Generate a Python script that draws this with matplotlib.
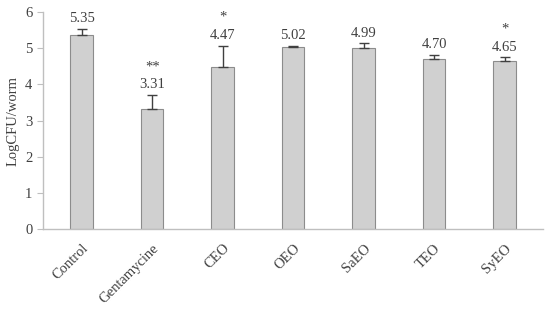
import numpy as np
import matplotlib.pyplot as plt

# Data
groups = ["Control", "Gentamycine", "CEO", "OEO", "SaEO", "TEO", "SyEO"]
log_cfu = [5.35, 3.31, 4.47, 5.02, 4.99, 4.70, 4.65]
errors = [0.18, 0.40, 0.60, 0.05, 0.15, 0.12, 0.10]
stars = ["", "**", "*", "", "", "", "*"]

plt.rcParams['font.family'] = ['Liberation Serif', 'DejaVu Serif']
txt = '#404040'

fig, ax = plt.subplots(figsize=(5.5, 3.13), dpi=100)
fig.subplots_adjust(left=0.078, right=0.988, top=0.962, bottom=0.268)

x = np.arange(len(groups))
ax.bar(x, log_cfu, width=0.32, color='#d0d0d0', edgecolor='#8c8c8c', linewidth=0.8,
       yerr=[np.zeros(len(errors)), errors],
       error_kw=dict(ecolor='#404040', elinewidth=1.0, capsize=3.5, capthick=1.0))

# value labels and significance stars
for i in range(len(groups)):
    top = log_cfu[i] + errors[i]
    ax.annotate(f"{log_cfu[i]:.2f}", (x[i], top), xytext=(0, 2.5), textcoords='offset points',
                ha='center', va='bottom', fontsize=10.5, color=txt)
    if stars[i]:
        ax.annotate(stars[i], (x[i], top), xytext=(0, 15.5), textcoords='offset points',
                    ha='center', va='bottom', fontsize=10.5, color=txt)

ax.set_xlim(-0.55, len(groups) - 0.45)
ax.set_ylim(0, 6)
ax.set_yticks(range(7))
ax.set_xticks(x)
ax.set_xticklabels(groups, rotation=45, ha='right', rotation_mode='anchor', fontsize=10.5, color=txt)
ax.tick_params(axis='y', labelsize=10.5, colors=txt, length=4, color='#bfbfbf')
ax.tick_params(axis='x', length=0, pad=9)
ax.set_ylabel("LogCFU/worm", fontsize=10.5, color=txt, labelpad=4)

for s in ['top', 'right']:
    ax.spines[s].set_visible(False)
for s in ['left', 'bottom']:
    ax.spines[s].set_color('#bfbfbf')
    ax.spines[s].set_linewidth(1.0)

plt.savefig("out.png", dpi=100)
